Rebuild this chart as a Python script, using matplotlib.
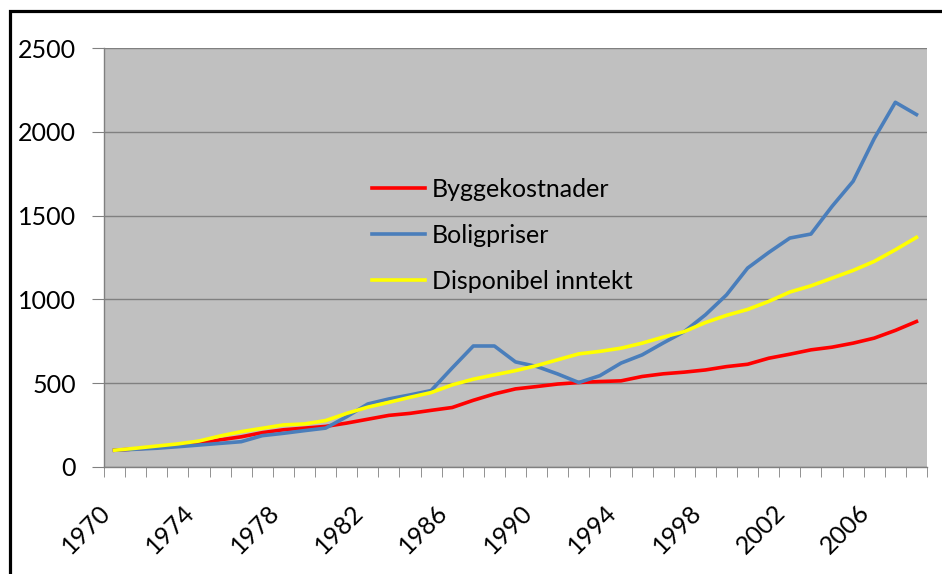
import matplotlib
matplotlib.use('Agg')
import matplotlib.pyplot as plt
from matplotlib.patches import Rectangle

plt.rcParams['font.family'] = ['Lato', 'DejaVu Sans']

years = list(range(1970, 2009))
byggekostnader = [100, 108, 117, 128, 140, 162, 180, 205, 222, 232,
                  242, 262, 285, 308, 320, 338, 355, 398, 436, 466,
                  480, 495, 504, 510, 514, 540, 556, 566, 579, 599,
                  613, 649, 673, 699, 715, 739, 769, 815, 868]
boligpriser = [100, 106, 112, 121, 131, 141, 151, 187, 201, 217,
               232, 300, 376, 406, 430, 456, 591, 722, 722, 627,
               600, 555, 504, 545, 620, 669, 740, 808, 908, 1027,
               1187, 1280, 1366, 1390, 1555, 1705, 1960, 2176, 2103]
disponibel = [100, 112, 125, 138, 155, 185, 211, 231, 251, 257,
              277, 320, 357, 386, 416, 444, 490, 524, 550, 575,
              605, 640, 675, 690, 709, 739, 775, 808, 862, 905,
              940, 988, 1044, 1081, 1127, 1173, 1227, 1296, 1370]
labels = ['Byggekostnader', 'Boligpriser', 'Disponibel inntekt']
colors = ['#FF0000', '#4A7EBB', '#FFFF00']

fig = plt.figure(figsize=(9.42, 5.74), dpi=100)
ax = fig.add_axes([104/942, 1-467/574, 823/942, 419/574])
ax.set_facecolor('#C0C0C0')

xs = range(len(years))
for vals, lab, col in zip([byggekostnader, boligpriser, disponibel], labels, colors):
    ax.plot(xs, vals, color=col, lw=2.6, label=lab, solid_joinstyle='round')

ax.set_xlim(-0.5, len(years)-0.5)
ax.set_ylim(0, 2500)
ax.set_yticks(range(0, 2501, 500))
ax.yaxis.grid(True, color='#808080', lw=1)
ax.set_axisbelow(True)
for s in ['top', 'right']:
    ax.spines[s].set_visible(False)
for s in ['left', 'bottom']:
    ax.spines[s].set_color('#808080')
    ax.spines[s].set_linewidth(1)

# category boundaries get the small tick marks, labels every 4th year
ax.set_xticks([i+0.5 for i in range(-1, len(years))], minor=True)
ax.set_xticks(range(0, len(years), 4))
ax.set_xticklabels([str(y) for y in years[::4]], rotation=45, ha='right')
ax.tick_params(axis='x', which='major', length=0, pad=24, labelsize=18)
ax.tick_params(axis='x', which='minor', length=7, color='#808080')
ax.tick_params(axis='y', length=9, color='#808080', pad=11, labelsize=18)

ax.legend(loc='upper left', bbox_to_anchor=((372-104)/823, (467-178)/419),
          frameon=False, fontsize=18, borderpad=0, borderaxespad=0,
          handlelength=2.1, handletextpad=0.3, labelspacing=0.92)

fig.patches.append(Rectangle((10/942, -0.1), 1.2, 1.1-11.5/574, transform=fig.transFigure,
                             fill=False, edgecolor='black', lw=2.3))

fig.savefig('out.png', dpi=100)
